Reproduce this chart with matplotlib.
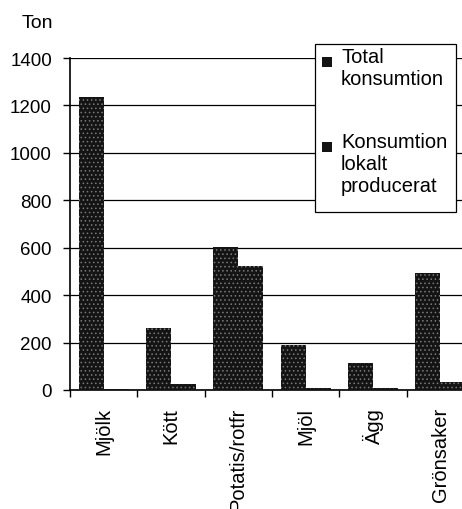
import matplotlib
matplotlib.use("Agg")
import matplotlib.pyplot as plt
import matplotlib.transforms as mtransforms
from matplotlib.patches import Rectangle
import numpy as np

categories = ["Mjölk", "Kött", "Potatis/rotfr", "Mjöl", "Ägg", "Grönsaker"]
total = [1235, 260, 605, 190, 113, 495]
local = [3, 25, 522, 10, 10, 32]
series_names = ["Total\nkonsumtion", "Konsumtion\nlokalt\nproducerat"]
yticks = [0, 200, 400, 600, 800, 1000, 1200, 1400]

plt.rcParams['font.family'] = ['Liberation Sans', 'DejaVu Sans']
plt.rcParams['hatch.linewidth'] = 0.6
BAR = '#141414'

W, H = 462, 510
fig = plt.figure(figsize=(W/100, H/100), dpi=100)
ax = fig.add_axes([70/W, 119/H, 404/W, 332/H])

x = np.arange(len(categories))
w = 0.37
ax.bar(x - w/2, total, w, color=BAR, linewidth=0, zorder=3)
ax.bar(x + w/2, local, w, color=BAR, linewidth=0, zorder=3)
# stipple texture
ax.bar(x - w/2, total, w, fill=False, hatch='....', edgecolor='#7a7a7a', linewidth=0, zorder=4)
ax.bar(x + w/2, local, w, fill=False, hatch='....', edgecolor='#7a7a7a', linewidth=0, zorder=4)

ax.set_xlim(-0.5, len(categories) - 0.5)
ax.set_ylim(0, 1400)
ax.set_yticks(yticks)
ax.set_yticklabels([str(v) for v in yticks], fontsize=13.5)
off = mtransforms.ScaledTranslation(0, 3/100, fig.dpi_scale_trans)
for lab in ax.get_yticklabels():
    lab.set_transform(lab.get_transform() + off)
ax.yaxis.grid(True, color='black', linewidth=0.9, zorder=0)
ax.set_axisbelow(True)

ax.set_xticks(x)
ax.set_xticklabels(categories, rotation=90, fontsize=14.5, va='top', ha='center')
ax.set_xticks(np.arange(len(categories) + 1) - 0.5, minor=True)
ax.tick_params(axis='x', which='major', length=0, pad=12)
ax.tick_params(axis='x', which='minor', length=5, width=1, direction='out')
ax.tick_params(axis='y', length=5, width=1, direction='out', pad=8)

for s in ['top', 'right']:
    ax.spines[s].set_visible(False)
ax.spines['left'].set_linewidth(1.2)
ax.spines['bottom'].set_linewidth(1.2)

fig.text(22/W, 1 - 23/H, "Ton", fontsize=14, va='center', ha='left')

# legend box
fig.patches.append(Rectangle((315/W, 1 - 213/H), 141/W, 168/H, transform=fig.transFigure,
                             facecolor='white', edgecolor='black', linewidth=0.9, zorder=5))
entry_top = [48, 133]
for name, ty in zip(series_names, entry_top):
    fig.patches.append(Rectangle((322/W, 1 - (ty + 20)/H), 10/W, 10/H, transform=fig.transFigure,
                                 facecolor=BAR, edgecolor='none', zorder=6))
    fig.text(341/W, 1 - ty/H, name, fontsize=14.5, va='top', ha='left',
             linespacing=1.2, zorder=7)

fig.savefig("out.png", dpi=100)
